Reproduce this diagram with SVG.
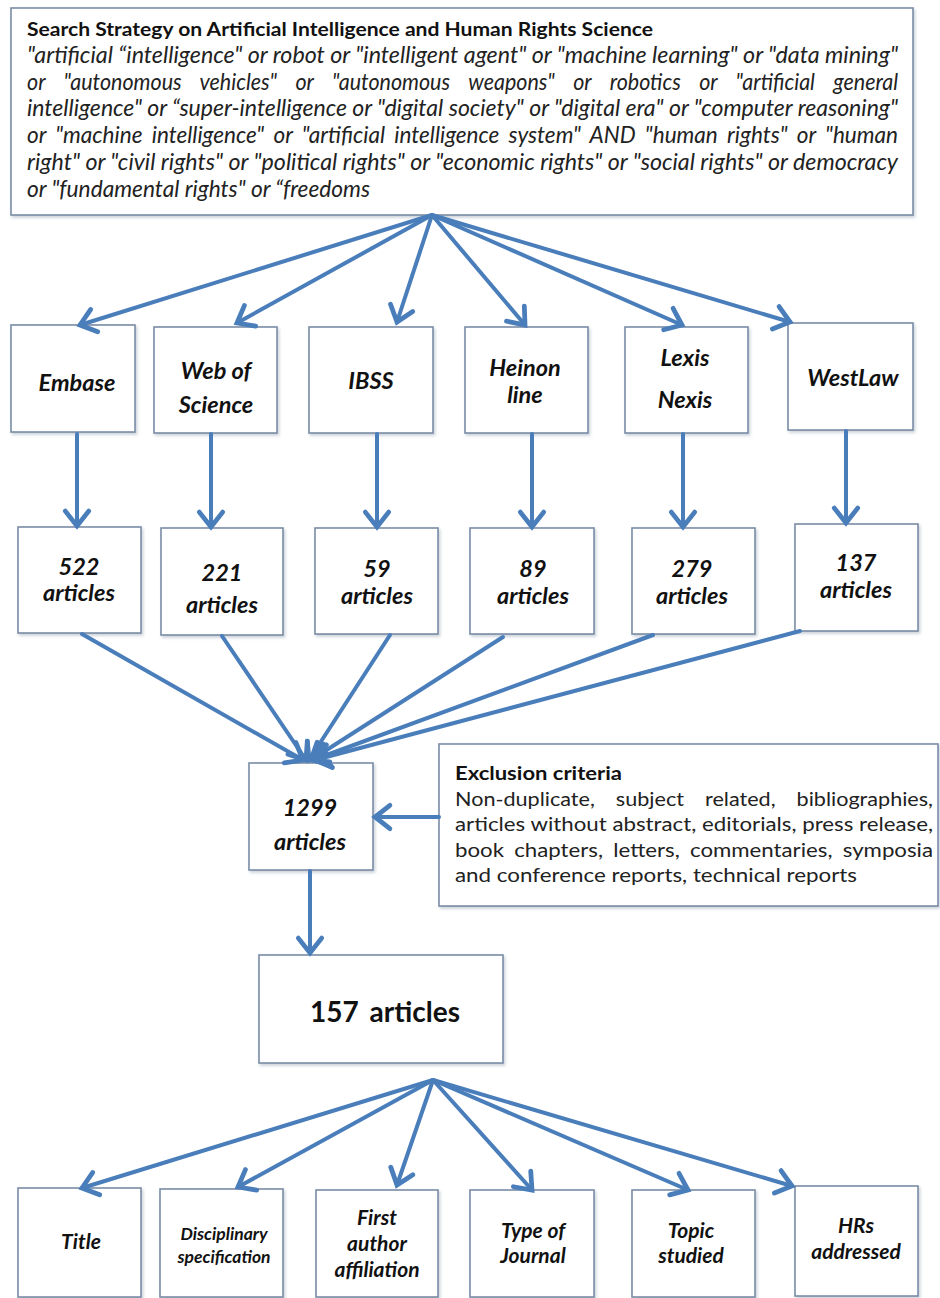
<svg xmlns="http://www.w3.org/2000/svg" width="940" height="1298" viewBox="0 0 940 1298">
<defs>
<style>
.box{fill:#ffffff;stroke:#7a8ca6;stroke-width:1.6;filter:url(#sh)}
.lbl{font-family:Lato,"Liberation Sans",sans-serif;font-weight:bold;font-style:italic;font-size:23.5px;fill:#111;text-anchor:middle}
.sm{font-size:21px}
.xs{font-size:17.5px}
.st{font-family:Lato,"Liberation Sans",sans-serif;font-style:italic;font-size:22.5px;fill:#222}
.ex{font-family:Lato,"Liberation Sans",sans-serif;font-size:19.5px;fill:#222}
.hd{font-family:Lato,"Liberation Sans",sans-serif;font-weight:bold;font-size:19px;fill:#111}
.conn line{stroke:#4a7ebb;stroke-width:4;stroke-linecap:round;marker-end:url(#ah)}
</style>
<filter id="sh" x="-10%" y="-10%" width="125%" height="125%">
<feDropShadow dx="1.5" dy="2" stdDeviation="1.5" flood-color="#8899aa" flood-opacity="0.45"/>
</filter>
<marker id="ah" markerUnits="userSpaceOnUse" markerWidth="34" markerHeight="34" viewBox="-18 -16 22 32" refX="0" refY="0" orient="auto">
<path d="M-14,-11 L0,0 L-14,11" fill="none" stroke="#4a7ebb" stroke-width="4.5" stroke-linecap="round" stroke-linejoin="miter"/>
</marker>
</defs>
<rect width="940" height="1298" fill="#ffffff"/>

<g id="search-strategy">
<rect class="box" x="11" y="8" width="902" height="207"/>
<text class="hd" x="27" y="36" textLength="626" lengthAdjust="spacingAndGlyphs">Search Strategy on Artificial  Intelligence and Human Rights Science</text>
<text class="st" x="27" y="63" textLength="871" lengthAdjust="spacingAndGlyphs">"artificial “intelligence" or robot or "intelligent agent" or "machine learning" or "data mining"</text>
<text class="st" x="27" y="90" textLength="871" lengthAdjust="spacingAndGlyphs" word-spacing="14">or "autonomous vehicles" or "autonomous weapons" or robotics or "artificial general</text>
<text class="st" x="27" y="116" textLength="871" lengthAdjust="spacingAndGlyphs">intelligence" or “super-intelligence or "digital society" or "digital era" or "computer reasoning"</text>
<text class="st" x="27" y="143" textLength="871" lengthAdjust="spacingAndGlyphs" word-spacing="4">or "machine intelligence" or "artificial intelligence system" AND "human rights" or "human</text>
<text class="st" x="27" y="170" textLength="871" lengthAdjust="spacingAndGlyphs">right" or "civil rights" or "political rights" or "economic rights" or "social rights" or democracy</text>
<text class="st" x="27" y="197" textLength="343" lengthAdjust="spacingAndGlyphs">or "fundamental rights" or “freedoms</text>
</g>

<g id="db-embase"><rect class="box" x="11" y="325" width="124" height="107"/><text class="lbl" x="77" y="391">Embase</text></g>
<g id="db-wos"><rect class="box" x="154" y="327" width="123" height="106"/><text class="lbl" x="216" y="379">Web of</text><text class="lbl" x="216" y="413">Science</text></g>
<g id="db-ibss"><rect class="box" x="309" y="327" width="124" height="106"/><text class="lbl" x="371" y="389">IBSS</text></g>
<g id="db-heinon"><rect class="box" x="465" y="327" width="123" height="106"/><text class="lbl" x="525" y="376">Heinon</text><text class="lbl" x="525" y="403">line</text></g>
<g id="db-lexis"><rect class="box" x="625" y="327" width="123" height="106"/><text class="lbl" x="685" y="366">Lexis</text><text class="lbl" x="685" y="408">Nexis</text></g>
<g id="db-westlaw"><rect class="box" x="788" y="323" width="125" height="107"/><text class="lbl" x="853" y="386">WestLaw</text></g>

<g id="n-522"><rect class="box" x="18" y="527" width="123" height="106"/><text class="lbl" x="79" y="575">522</text><text class="lbl" x="79" y="601">articles</text></g>
<g id="n-221"><rect class="box" x="161" y="528" width="122" height="107"/><text class="lbl" x="222" y="581">221</text><text class="lbl" x="222" y="613">articles</text></g>
<g id="n-59"><rect class="box" x="315" y="528" width="123" height="106"/><text class="lbl" x="377" y="577">59</text><text class="lbl" x="377" y="604">articles</text></g>
<g id="n-89"><rect class="box" x="470" y="528" width="124" height="106"/><text class="lbl" x="533" y="577">89</text><text class="lbl" x="533" y="604">articles</text></g>
<g id="n-279"><rect class="box" x="632" y="528" width="123" height="106"/><text class="lbl" x="692" y="577">279</text><text class="lbl" x="692" y="604">articles</text></g>
<g id="n-137"><rect class="box" x="795" y="524" width="123" height="107"/><text class="lbl" x="856" y="571">137</text><text class="lbl" x="856" y="598">articles</text></g>

<g id="n-1299"><rect class="box" x="249" y="763" width="124" height="107"/><text class="lbl" x="310" y="816">1299</text><text class="lbl" x="310" y="850">articles</text></g>

<g id="exclusion">
<rect class="box" x="439" y="744" width="499" height="162"/>
<text class="hd" x="455" y="780" textLength="167" lengthAdjust="spacingAndGlyphs">Exclusion criteria</text>
<text class="ex" x="455" y="806" textLength="478" lengthAdjust="spacingAndGlyphs" word-spacing="14">Non-duplicate, subject related, bibliographies,</text>
<text class="ex" x="455" y="831" textLength="478" lengthAdjust="spacingAndGlyphs">articles without abstract, editorials, press release,</text>
<text class="ex" x="455" y="857" textLength="478" lengthAdjust="spacingAndGlyphs" word-spacing="4">book chapters, letters, commentaries, symposia</text>
<text class="ex" x="455" y="882" textLength="402" lengthAdjust="spacingAndGlyphs">and conference reports, technical reports</text>
</g>

<g id="n-157"><rect class="box" x="259" y="955" width="244" height="108"/><text x="385" y="1022" font-family="Lato,'Liberation Sans',sans-serif" font-weight="bold" font-size="28" fill="#111" text-anchor="middle" word-spacing="4">157 articles</text></g>

<g id="c-title"><rect class="box" x="18" y="1188" width="123" height="109"/><text class="lbl sm" x="81" y="1249">Title</text></g>
<g id="c-disc"><rect class="box" x="160" y="1189" width="123" height="108"/><text class="lbl xs" x="224" y="1240">Disciplinary</text><text class="lbl xs" x="224" y="1263">specification</text></g>
<g id="c-first"><rect class="box" x="316" y="1190" width="122" height="107"/><text class="lbl sm" x="377" y="1225">First</text><text class="lbl sm" x="377" y="1251">author</text><text class="lbl sm" x="377" y="1277">affiliation</text></g>
<g id="c-type"><rect class="box" x="470" y="1190" width="124" height="107"/><text class="lbl sm" x="533" y="1238">Type of</text><text class="lbl sm" x="533" y="1263">Journal</text></g>
<g id="c-topic"><rect class="box" x="632" y="1190" width="123" height="107"/><text class="lbl sm" x="691" y="1238">Topic</text><text class="lbl sm" x="691" y="1263">studied</text></g>
<g id="c-hrs"><rect class="box" x="795" y="1186" width="123" height="110"/><text class="lbl sm" x="856" y="1233">HRs</text><text class="lbl sm" x="856" y="1259">addressed</text></g>

<g id="connectors" class="conn">
<line x1="432" y1="215" x2="80" y2="325"/>
<line x1="432" y1="215" x2="237" y2="323"/>
<line x1="432" y1="215" x2="397" y2="322"/>
<line x1="432" y1="215" x2="525" y2="325"/>
<line x1="432" y1="215" x2="682" y2="325"/>
<line x1="432" y1="215" x2="790" y2="322"/>
<line x1="77" y1="434" x2="77" y2="526"/>
<line x1="211" y1="434" x2="211" y2="527"/>
<line x1="377" y1="434" x2="377" y2="527"/>
<line x1="532" y1="434" x2="532" y2="527"/>
<line x1="683" y1="434" x2="683" y2="527"/>
<line x1="846" y1="431" x2="846" y2="523"/>
<line x1="82" y1="634" x2="303" y2="760"/>
<line x1="222" y1="636" x2="306" y2="760"/>
<line x1="390" y1="635" x2="309" y2="760"/>
<line x1="503" y1="637" x2="311" y2="760"/>
<line x1="653" y1="635" x2="313" y2="760"/>
<line x1="800" y1="631" x2="315" y2="760"/>
<line x1="439" y1="817" x2="375" y2="817"/>
<line x1="310" y1="871" x2="310" y2="953"/>
<line x1="433" y1="1080" x2="82" y2="1188"/>
<line x1="433" y1="1080" x2="238" y2="1187"/>
<line x1="433" y1="1080" x2="397" y2="1185"/>
<line x1="433" y1="1080" x2="532" y2="1190"/>
<line x1="433" y1="1080" x2="688" y2="1190"/>
<line x1="433" y1="1080" x2="792" y2="1186"/>
</g>
</svg>
